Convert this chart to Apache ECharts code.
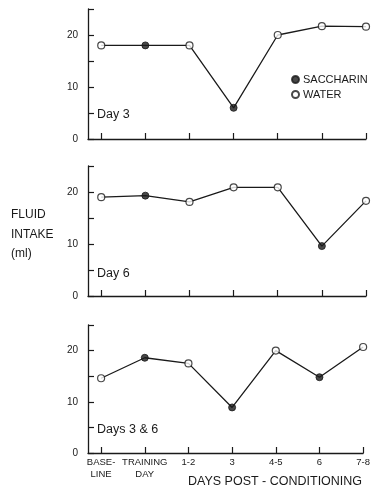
<!DOCTYPE html>
<html>
<head>
<meta charset="utf-8">
<script src="https://cdn.jsdelivr.net/npm/echarts@6/dist/echarts.min.js"></script>
<style>
  html, body { margin: 0; padding: 0; background: #fff; }
  #chart { width: 373px; height: 489px; }
</style>
</head>
<body>
<div id="chart"></div>
<script>
// x positions 0..6
const dayLabels = ['BASE-\nLINE', 'TRAINING\nDAY', '1-2', '3', '4-5', '6', '7-8']
const panelNames = ['Day 3', 'Day 6', 'Days 3 & 6']

const day3Intake = [18, 18, 18, 6, 20, 21.7, 21.6]
const day6Intake = [19, 19.3, 18.1, 20.9, 20.9, 9.6, 18.3]
const day36Intake = [14.6, 18.6, 17.5, 8.9, 20, 14.8, 20.7]

// 1 = saccharin (filled), 0 = water (open)
const day3Saccharin = [0, 1, 0, 1, 0, 0, 0]
const day6Saccharin = [0, 1, 0, 0, 0, 1, 0]
const day36Saccharin = [0, 1, 0, 1, 0, 1, 0]

const yTicks = [0, 10, 20]

const panels = [
  { values: day3Intake, flags: day3Saccharin },
  { values: day6Intake, flags: day6Saccharin },
  { values: day36Intake, flags: day36Saccharin }
]

const ink = '#1a1a1a'
const font = 'Liberation Sans'

const chart = echarts.init(document.getElementById('chart'))

const grids = [
  { left: 88, right: 7, top: 9, height: 130 },
  { left: 88, right: 7, top: 166, height: 130 },
  { left: 88, right: 7, top: 325, height: 128 }
]

const xAxes = grids.map((g, i) => ({
  type: 'value',
  gridIndex: i,
  min: -0.3,
  max: 6,
  axisLine: { onZero: false, lineStyle: { color: ink, width: 1.3 } },
  axisTick: {
    inside: true,
    length: 6,
    customValues: [0, 1, 2, 3, 4, 5, 6],
    lineStyle: { color: ink, width: 1.2 }
  },
  axisLabel: {
    show: i === 2,
    customValues: [0, 1, 2, 3, 4, 5, 6],
    formatter: v => dayLabels[Math.round(v)],
    color: ink,
    fontFamily: font,
    fontSize: 9.5,
    lineHeight: 12,
    margin: 3
  },
  splitLine: { show: false }
}))

const yAxes = grids.map((g, i) => ({
  type: 'value',
  gridIndex: i,
  min: 0,
  max: 25,
  interval: 5,
  axisLine: { show: true, onZero: false, lineStyle: { color: ink, width: 1.3 } },
  axisTick: { show: true, inside: true, length: 6, lineStyle: { color: ink, width: 1.2 } },
  axisLabel: {
    formatter: v => (yTicks.includes(v) ? String(v) : ''),
    color: ink,
    fontFamily: font,
    fontSize: 10,
    margin: 10
  },
  splitLine: { show: false }
}))

const series = []
panels.forEach((p, i) => {
  series.push({
    type: 'line',
    xAxisIndex: i,
    yAxisIndex: i,
    data: p.values.map((v, k) => [k, v]),
    showSymbol: false,
    lineStyle: { color: ink, width: 1.3 },
    silent: true,
    z: 2
  })
  series.push({
    name: 'SACCHARIN',
    type: 'scatter',
    xAxisIndex: i,
    yAxisIndex: i,
    data: p.values.map((v, k) => [k, v]).filter((d, k) => p.flags[k] === 1),
    symbolSize: 7,
    itemStyle: { color: ink, borderColor: ink, borderWidth: 1 },
    z: 3
  })
  series.push({
    name: 'WATER',
    type: 'scatter',
    xAxisIndex: i,
    yAxisIndex: i,
    data: p.values.map((v, k) => [k, v]).filter((d, k) => p.flags[k] === 0),
    symbolSize: 7,
    itemStyle: { color: '#fff', borderColor: ink, borderWidth: 1.2 },
    z: 3
  })
})

const option = {
  backgroundColor: '#fff',
  animation: false,
  grid: grids,
  xAxis: xAxes,
  yAxis: yAxes,
  legend: {
    data: ['SACCHARIN', 'WATER'],
    orient: 'vertical',
    left: 286,
    top: 69,
    itemWidth: 7,
    itemHeight: 7,
    itemGap: 4,
    icon: 'circle',
    textStyle: { color: ink, fontFamily: font, fontSize: 11, padding: [0, 0, 0, -1] },
    selectedMode: false
  },
  title: panelNames.map((name, i) => ({
    text: name,
    left: 92,
    top: [103, 262, 418][i],
    textStyle: { color: ink, fontFamily: font, fontSize: 12.5, fontWeight: 'normal' }
  })),
  graphic: [
    {
      type: 'text',
      left: 11,
      top: 205,
      style: {
        text: 'FLUID\nINTAKE\n(ml)',
        fill: ink,
        font: '12px "Liberation Sans"',
        lineHeight: 19.5
      }
    },
    {
      type: 'text',
      left: 188,
      top: 475,
      style: {
        text: 'DAYS POST - CONDITIONING',
        fill: ink,
        font: '12.5px "Liberation Sans"'
      }
    }
  ],
  series
}

chart.setOption(option)
</script>
</body>
</html>
